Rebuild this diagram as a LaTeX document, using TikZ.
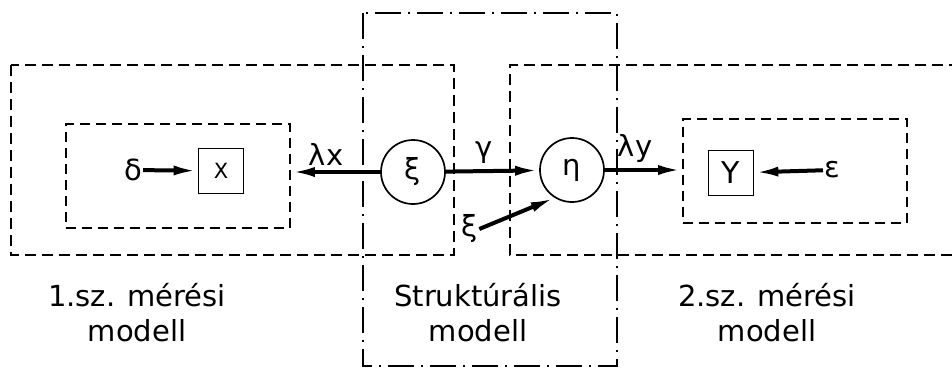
\documentclass[tikz,border=0pt]{standalone}
\usepackage{fontspec}
\setmainfont{DejaVu Sans}
\usetikzlibrary{arrows.meta, positioning, calc}

\begin{document}
\begin{tikzpicture}[
  x=1pt, y=-1pt,
  font=\fontsize{29}{35}\selectfont,
  lbl/.style = {inner sep=1pt},
  obsbox/.style = {
    rectangle, draw=black, line width=1.7pt,
    minimum width=45pt, minimum height=45pt, inner sep=0pt
  },
  latent/.style = {
    circle, draw=black, line width=1.7pt,
    minimum size=64pt, inner sep=0pt
  },
  dbox/.style = {
    rectangle, draw=black, line width=1.7pt,
    dash pattern=on 10pt off 6pt, inner sep=0pt
  },
  outer/.style = {draw=black, line width=1.7pt, dash pattern=on 11pt off 6pt},
  dashdot/.style = {draw=black, line width=1.7pt, dash pattern=on 26pt off 7pt on 2pt off 7pt},
  arr/.style = {-{Latex[length=24pt, width=10pt]}, line width=4pt}
]
\useasboundingbox (0,0) rectangle (952,368);

% outer measurement frames and structural frame
\draw[outer] (11,65) rectangle (454,255);
\draw[outer] (960,65) -- (510,65) -- (510,255) -- (960,255);
\draw[dashdot] (363,13) rectangle (617,366);

% inner measurement frames
\node[dbox, minimum width=224pt, minimum height=104pt] (inL) at (178,176) {};
\node[dbox, minimum width=224pt, minimum height=104pt] (inR) at (795,171) {};

% observed variables and latent variables
\node[obsbox, font=\fontsize{21}{25}\selectfont] (X) at (221,171) {X};
\node[obsbox, font=\fontsize{30}{34}\selectfont] (Y) at (731,173) {Y};
\node[latent] (xi)  at (413,172) {ξ};
\node[latent] (eta) at (572,170) {η};

% error terms
\node[lbl] (delta) at (133,170) {δ};
\node[lbl] (eps)   at (832,170) {ε};
\node[lbl] (zeta)  at (470,229) {ξ};

% connectors
\draw[arr] (delta) -- (X);
\draw[arr] (xi) -- (xi -| inL.east);
\draw[arr] (xi) -- (eta);
\draw[arr] (zeta.east) -- (eta.-122);
\draw[arr] (eta) -- (eta -| inR.west);
\draw[arr] (eps) -- (Y);

% path labels
\node[lbl] (lx) at (326,154) {λx};
\node[lbl] (gm) at (484,153) {γ};
\node[lbl] (ly) at (635,148) {λy};

% captions
\node[align=center] (cap1) at (137,313) {1.sz. mérési\\modell};
\node[align=center] (cap2) at (478,313) {Struktúrális\\modell};
\node[align=center] (cap3) at (767,313) {2.sz. mérési\\modell};
\end{tikzpicture}
\end{document}
